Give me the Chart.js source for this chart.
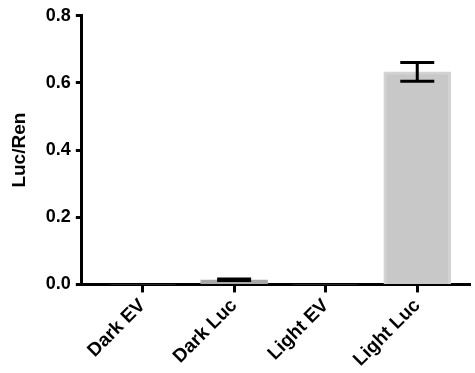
<!DOCTYPE html>
<html>
<head>
<meta charset="utf-8">
<script src="https://cdn.jsdelivr.net/npm/chart.js@4/dist/chart.umd.min.js"></script>
<style>
  html, body { margin: 0; padding: 0; background: #fff; }
  #wrap { width: 475px; height: 373px; }
</style>
</head>
<body>
<div id="wrap"><canvas id="lucChart"></canvas></div>
<script>
// values
const categories = ['Dark EV', 'Dark Luc', 'Light EV', 'Light Luc'];
const means = [0.001, 0.014, 0.001, 0.633];
const errors = [0, 0.002, 0, 0.028];
const yTicks = [0.0, 0.2, 0.4, 0.6, 0.8];

const FONT = '"Liberation Sans", Arial, Helvetica, sans-serif';

// error bars drawn through the chart scales
const errorBars = {
    id: 'errorBars',
    afterDatasetsDraw(chart) {
        const { ctx, scales } = chart;
        const x = scales.x, y = scales.y;
        ctx.save();
        ctx.strokeStyle = '#000';
        ctx.lineWidth = 3;
        means.forEach((m, i) => {
            if (!errors[i]) return;
            const px = x.getPixelForValue(i);
            const top = y.getPixelForValue(m + errors[i]);
            const bot = y.getPixelForValue(m - errors[i]);
            const half = 17;
            ctx.beginPath();
            ctx.moveTo(px, top); ctx.lineTo(px, bot);
            ctx.moveTo(px - half, top); ctx.lineTo(px + half, top);
            ctx.moveTo(px - half, bot); ctx.lineTo(px + half, bot);
            ctx.stroke();
        });
        ctx.restore();
    }
};

const ctx = document.getElementById('lucChart').getContext('2d');
new Chart(ctx, {
    type: 'bar',
    data: {
        datasets: [{
            data: means.map((v, i) => ({ x: i, y: v })),
            backgroundColor: ['#c8c8c8', '#a8a8a8', '#c8c8c8', '#c8c8c8'],
            borderColor: ['#d3d3d3', '#a8a8a8', '#d3d3d3', '#d3d3d3'],
            borderWidth: 3,
            borderSkipped: 'bottom',
            barThickness: 67
        }]
    },
    options: {
        responsive: true,
        maintainAspectRatio: false,
        animation: false,
        layout: { padding: { top: 9, right: 5, left: 8, bottom: 0 } },
        plugins: {
            legend: { display: false },
            tooltip: { enabled: false }
        },
        scales: {
            x: {
                type: 'linear',
                offset: false,
                min: -0.663,
                max: 3.576,
                afterBuildTicks: (axis) => {
                    axis.ticks = categories.map((c, i) => ({ value: i }));
                },
                ticks: {
                    autoSkip: false,
                    minRotation: 45,
                    maxRotation: 45,
                    color: '#000',
                    padding: 2,
                    font: { family: FONT, size: 19, weight: 'bold' },
                    callback: (v) => categories[v]
                },
                grid: {
                    offset: false,
                    drawOnChartArea: false,
                    drawTicks: true,
                    tickLength: 8,
                    tickWidth: 3,
                    tickColor: '#000'
                },
                border: { color: '#000', width: 3 }
            },
            y: {
                min: 0,
                max: 0.8,
                afterBuildTicks: (axis) => {
                    axis.ticks = yTicks.map(v => ({ value: v }));
                },
                ticks: {
                    color: '#000',
                    padding: 5,
                    font: { family: FONT, size: 18, weight: 'bold' },
                    callback: (v) => v.toFixed(1)
                },
                grid: {
                    drawOnChartArea: false,
                    drawTicks: true,
                    tickLength: 6,
                    tickWidth: 3,
                    tickColor: '#000'
                },
                border: { color: '#000', width: 3 },
                title: {
                    display: true,
                    text: 'Luc/Ren',
                    color: '#000',
                    padding: { top: 0, bottom: 10 },
                    font: { family: FONT, size: 19, weight: 'bold' }
                }
            }
        }
    },
    plugins: [errorBars]
});
</script>
</body>
</html>
